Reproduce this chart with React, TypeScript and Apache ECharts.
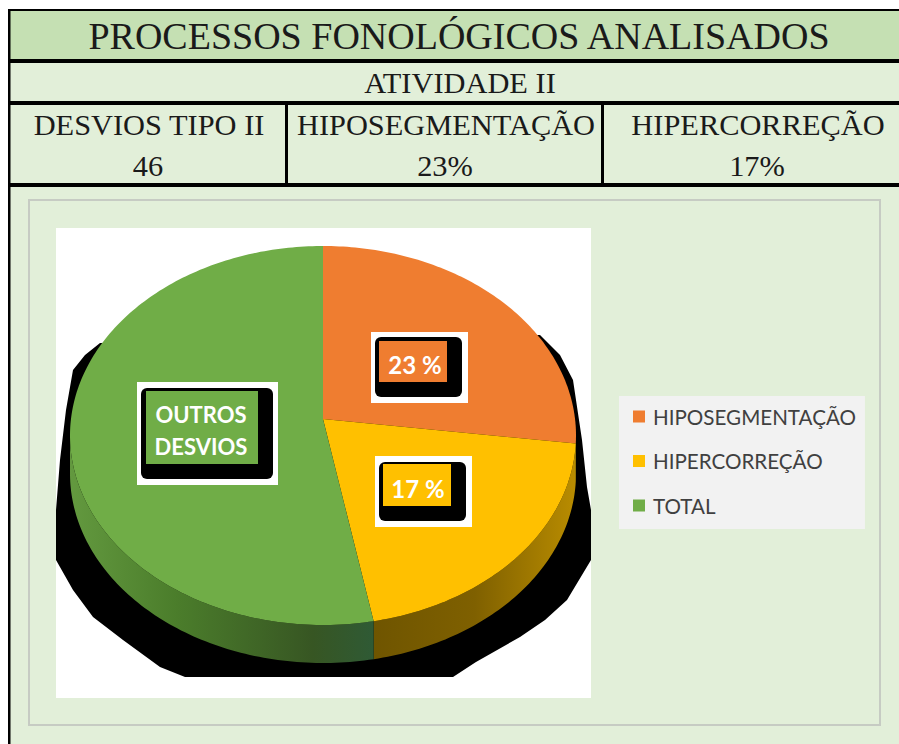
import React, { useEffect, useRef } from "react";
import * as echarts from "echarts";

const sliceNames = ["HIPOSEGMENTAÇÃO", "HIPERCORREÇÃO", "TOTAL"];
const sliceValues = [23, 17, 45];
const sliceColors = ["#ef7d30", "#ffc000", "#70ad47"];
const title = "PROCESSOS FONOLÓGICOS ANALISADOS";
const subtitle = "ATIVIDADE II";
const headers = ["DESVIOS TIPO II", "HIPOSEGMENTAÇÃO", "HIPERCORREÇÃO"];
const headerValues = ["46", "23%", "17%"];

const CX = 323, CY = 435.5, RX = 253, RY = 189.5, DEPTH = 38, APEX = 0.087;
const serif = '"Liberation Serif", "Times New Roman", serif';

const project = (deg: number) => {
  const t = (deg * Math.PI) / 180;
  const X = Math.sin(t), Y = Math.cos(t);
  const q = 1 + APEX * Y;
  const u = (X * Math.sqrt(1 - APEX * APEX)) / q;
  const v = (Y + APEX) / q;
  return [CX + RX * u, CY - RY * v];
};

const total = sliceValues.reduce((a, b) => a + b, 0);
const wallFill = (i: number) =>
  i === 1
    ? new echarts.graphic.LinearGradient(0, 0, 1, 0, [
        { offset: 0, color: "#6f5500" },
        { offset: 0.5, color: "#7f6000" },
        { offset: 1, color: "#b98c00" },
      ])
    : new echarts.graphic.LinearGradient(0, 0, 1, 0, [
        { offset: 0, color: "#63993f" },
        { offset: 0.35, color: "#4b7d2b" },
        { offset: 0.8, color: "#375623" },
        { offset: 1, color: "#2f5a35" },
      ]);

const sliceSeries = sliceNames.map((name, i) => {
  const start = (sliceValues.slice(0, i).reduce((a, b) => a + b, 0) / total) * 360;
  const end = start + (sliceValues[i] / total) * 360;
  return {
    type: "custom" as const,
    name,
    coordinateSystem: "none",
    itemStyle: { color: sliceColors[i] },
    data: [[sliceValues[i]]],
    renderItem: () => {
      const arc: number[][] = [];
      for (let a = start; a <= end + 1e-6; a += 1) arc.push(project(a));
      arc.push(project(end));
      const front = arc.filter((p) => p[1] >= CY);
      const children: any[] = [];
      if (front.length > 1) {
        const bottom = front.map((p) => [p[0], p[1] + DEPTH]).reverse();
        children.push({
          type: "polygon",
          shape: { points: [...front, ...bottom] },
          style: { fill: wallFill(i) },
        });
      }
      children.push({
        type: "polygon",
        shape: { points: [[CX, CY - RY * APEX], ...arc] },
        style: { fill: sliceColors[i] },
      });
      return { type: "group", children };
    },
  };
});

const rect = (x: number, y: number, w: number, h: number, fill: string, z = 0, extra: any = {}) => ({
  type: "rect",
  z,
  shape: { x, y, width: w, height: h, ...extra },
  style: { fill },
});
const serifText = (text: string, x: number, y: number, size: number) => ({
  type: "text",
  z: 5,
  style: {
    text,
    x,
    y,
    fill: "#1a1a1a",
    font: `${size}px ${serif}`,
    textAlign: "center",
    textVerticalAlign: "middle",
  },
});
const labelBox = (
  w: number[],
  b: number[],
  c: number[],
  color: string,
  size: number,
  lines: { text: string; x: number; y: number }[],
) => [
  rect(w[0], w[1], w[2] - w[0], w[3] - w[1], "#ffffff", 100),
  rect(b[0], b[1], b[2] - b[0], b[3] - b[1], "#000000", 101, { r: 6 }),
  rect(c[0], c[1], c[2] - c[0], c[3] - c[1], color, 102),
  ...lines.map((l) => ({
    type: "text",
    z: 103,
    style: {
      text: l.text,
      x: l.x,
      y: l.y,
      fill: "#ffffff",
      font: `bold ${size}px Lato, sans-serif`,
      textAlign: "center",
      textVerticalAlign: "middle",
    },
  })),
];

const shadowPoints = [
  [100, 343], [85, 355], [73, 370], [66, 410], [60, 460], [56, 510], [56, 560], [73, 590], [93, 617],
  [123, 640], [160, 667], [185, 677], [453, 677], [476, 662], [520, 637], [545, 620], [567, 600],
  [591, 560], [591, 510], [587, 487], [582, 440], [573, 380], [560, 355], [540, 335],
];

export default function App() {
  const ref = useRef<HTMLDivElement>(null);
  useEffect(() => {
    const chart = echarts.init(ref.current!, undefined, { renderer: "svg" });
    chart.setOption({
      animation: false,
      backgroundColor: "#ffffff",
      legend: {
        orient: "vertical",
        left: 619,
        top: 396,
        padding: [10, 9, 13, 14],
        backgroundColor: "#f2f2f2",
        itemWidth: 12,
        itemHeight: 12,
        itemGap: 23.5,
        data: sliceNames.map((name) => ({ name, icon: "rect" })),
        textStyle: { color: "#404040", fontFamily: "Lato, sans-serif", fontSize: 20.6, padding: [0, 0, 0, 3] },
      },
      graphic: {
        elements: [
          rect(8, 10, 891, 734, "#e2efd9", 0),
          rect(8, 10, 891, 50, "#c5e0b3", 1),
          rect(8, 9, 891, 2, "#000000", 2),
          rect(8, 9, 2.5, 735, "#000000", 2),
          rect(8, 59, 891, 4, "#000000", 2),
          rect(8, 101, 891, 4, "#000000", 2),
          rect(8, 183, 891, 4, "#000000", 2),
          rect(285, 101, 3, 84, "#000000", 2),
          rect(601, 101, 3, 84, "#000000", 2),
          {
            type: "rect",
            z: 1,
            shape: { x: 29, y: 200, width: 851, height: 525 },
            style: { fill: "#e2efd9", stroke: "#c6cbc3", lineWidth: 2 },
          },
          rect(56, 228, 535, 470, "#ffffff", 1),
          { type: "polygon", z: 1, shape: { points: shadowPoints }, style: { fill: "#000000" } },
          serifText(title, 459, 36, 38),
          serifText(subtitle, 460, 83, 30.4),
          serifText(headers[0], 149, 125, 30.4),
          serifText(headers[1], 446, 125, 30.4),
          serifText(headers[2], 758, 125, 30.4),
          serifText(headerValues[0], 148, 166, 30.4),
          serifText(headerValues[1], 445, 166, 30.4),
          serifText(headerValues[2], 757, 166, 30.4),
          ...labelBox([371, 332, 468, 403], [375, 337, 462, 397], [379, 341, 447, 382], sliceColors[0], 24, [
            { text: "23 %", x: 415, y: 364 },
          ]),
          ...labelBox([375, 456, 472, 527], [379, 462, 466, 521], [383, 464, 451, 506], sliceColors[1], 24, [
            { text: "17 %", x: 418, y: 488 },
          ]),
          ...labelBox([137, 382, 278, 485], [141, 388, 273, 479], [146, 391, 258, 464], sliceColors[2], 22, [
            { text: "OUTROS", x: 201, y: 414 },
            { text: "DESVIOS", x: 201, y: 446 },
          ]),
        ],
      },
      series: sliceSeries,
    });
    return () => chart.dispose();
  }, []);
  return <div ref={ref} style={{ position: "fixed", left: 0, top: 0, width: 899, height: 744 }} />;
}
